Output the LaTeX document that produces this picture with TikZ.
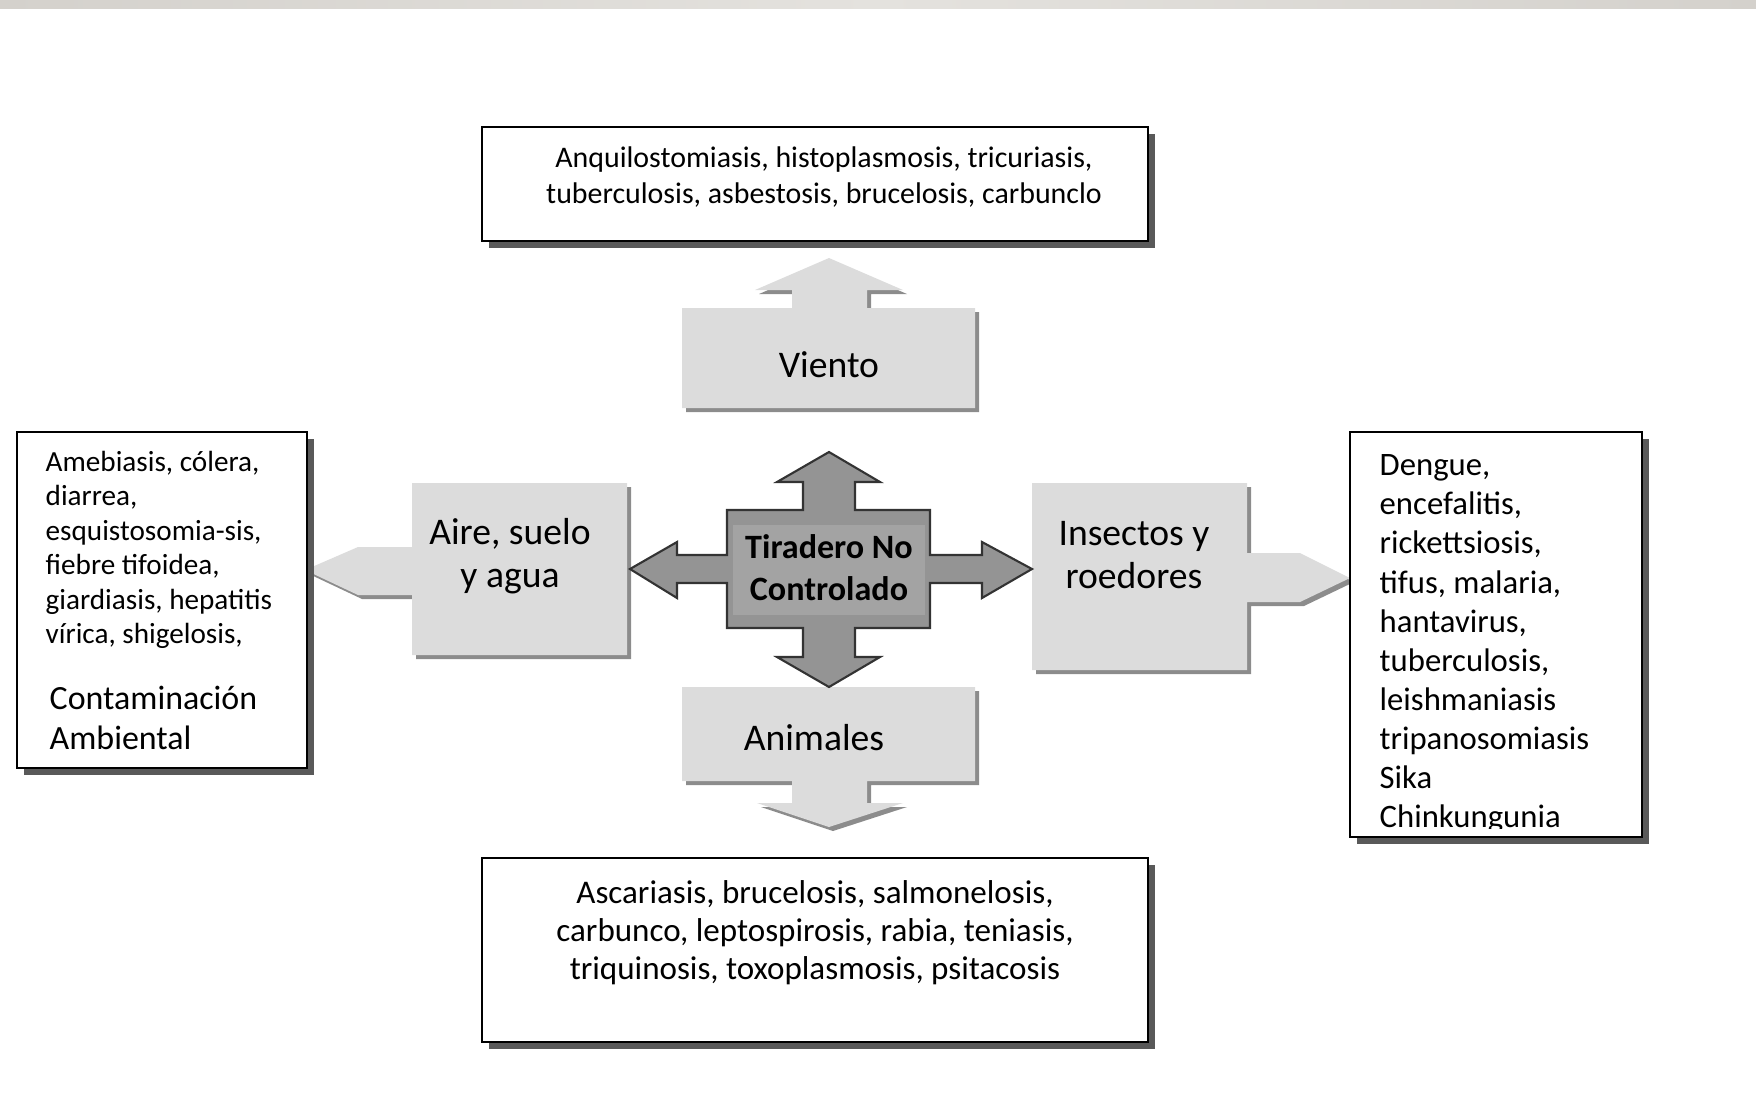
\documentclass[tikz,border=0pt]{standalone}
\usepackage{fontspec}
\setmainfont{Carlito}
\usetikzlibrary{shadows}
\definecolor{calloutgray}{RGB}{220,220,220}
\definecolor{crossgray}{RGB}{148,148,148}
\definecolor{innergray}{RGB}{163,163,163}
\definecolor{bandgray}{RGB}{212,209,204}
\definecolor{bandlight}{RGB}{228,226,222}
\tikzset{
	disbox/.style={draw=black,line width=0.7pt,fill=white,drop shadow={shadow xshift=0.07cm,shadow yshift=-0.07cm,fill=black!65,opacity=1}},
	callout/.style={fill=calloutgray,drop shadow={shadow xshift=0.04cm,shadow yshift=-0.04cm,fill=black!45,opacity=1}},
	crossarrow/.style={fill=crossgray,draw=black!80,line width=0.6pt,line join=miter},
	distext/.style={font=\fontsize{8.5}{10.2}\selectfont,align=center,inner sep=0pt},
	animaltext/.style={font=\fontsize{9.4}{10.8}\selectfont,align=center,inner sep=0pt},
	sidetext/.style={font=\fontsize{8.3}{9.8}\selectfont,align=left,inner sep=0pt,anchor=west},
	insecttext/.style={font=\fontsize{9.3}{11.12}\selectfont,align=left,inner sep=0pt,anchor=west},
	plaintext/.style={font=\fontsize{9.65}{11.4}\selectfont,align=left,inner sep=0pt,anchor=west},
	calltext/.style={font=\fontsize{10.7}{12.2}\selectfont,align=center,inner sep=0pt},
	centertext/.style={font=\bfseries\fontsize{9.7}{12}\selectfont,align=center,inner sep=0pt}
}
\begin{document}
\begin{tikzpicture}[x=0.01cm,y=-0.01cm]
		\useasboundingbox (0,0) rectangle (1756,1117);
		\shade[left color=bandgray,right color=bandgray,middle color=bandlight] (0,0) rectangle (1756,8);
		\path[callout] (682,308) -- (792,308) -- (792,290) -- (755,290) -- (829,258) -- (903,290) -- (867,290) -- (867,308) -- (975,308) -- (975,408) -- (682,408) -- cycle;
		\path[callout] (682,687) -- (975,687) -- (975,781) -- (867,781) -- (867,803) -- (903,803) -- (829,827) -- (757,803) -- (792,803) -- (792,781) -- (682,781) -- cycle;
		\path[callout] (412,483) -- (627,483) -- (627,655) -- (412,655) -- (412,595) -- (358,595) -- (305,570) -- (358,547) -- (412,547) -- cycle;
		\path[callout] (1032,483) -- (1247,483) -- (1247,553) -- (1300,553) -- (1350,578) -- (1300,602) -- (1247,602) -- (1247,670) -- (1032,670) -- cycle;
		\draw[crossarrow] (727,510) -- (803,510) -- (803,482) -- (777,482) -- (829,452) -- (880,482) -- (855,482) -- (855,510) -- (930,510) -- (930,555) -- (982,555) -- (982,542) -- (1032,569) -- (982,598) -- (982,583) -- (930,583) -- (930,628) -- (855,628) -- (855,657) -- (880,657) -- (829,687) -- (777,657) -- (803,657) -- (803,628) -- (727,628) -- (727,583) -- (677,583) -- (677,598) -- (630,569) -- (677,542) -- (677,555) -- (727,555) -- cycle;
		\fill[innergray] (733,525) rectangle (925,615);
		\draw[disbox] (482,127) rectangle (1148,241);
		\draw[disbox] (482,858) rectangle (1148,1042);
		\draw[disbox] (17,432) rectangle (307,768);
		\draw[disbox] (1350,432) rectangle (1642,837);
		\node[distext] (vientodis) at (824,177) {Anquilostomiasis, histoplasmosis, tricuriasis,\\tuberculosis, asbestosis, brucelosis, carbunclo};
		\node[animaltext] (animaldis) at (815,933) {Ascariasis, brucelosis, salmonelosis,\\carbunco, leptospirosis, rabia, teniasis,\\triquinosis, toxoplasmosis, psitacosis};
		\node[sidetext] (airedis) at (45,550) {Amebiasis, cólera,\\diarrea,\\esquistosomia-sis,\\fiebre tifoidea,\\giardiasis, hepatitis\\vírica, shigelosis,};
		\node[plaintext] (contam) at (49,718) {Contaminación\\Ambiental};
		\begin{scope}
			\clip (1352,434) rectangle (1640,828);
			\node[insecttext] (insectdis) at (1379,644) {Dengue,\\encefalitis,\\rickettsiosis,\\tifus, malaria,\\hantavirus,\\tuberculosis,\\leishmaniasis\\tripanosomiasis\\Sika\\Chinkungunia};
		\end{scope}
		\node[calltext] (viento) at (829,365) {Viento};
		\node[calltext] (animales) at (814,738) {Animales};
		\node[calltext] (aire) at (510,556) {Aire, suelo\\y agua};
		\node[calltext] (insectos) at (1134,555) {Insectos y\\roedores};
		\node[centertext] (tiradero) at (829,568) {Tiradero No\\Controlado};
	\end{tikzpicture}
\end{document}
